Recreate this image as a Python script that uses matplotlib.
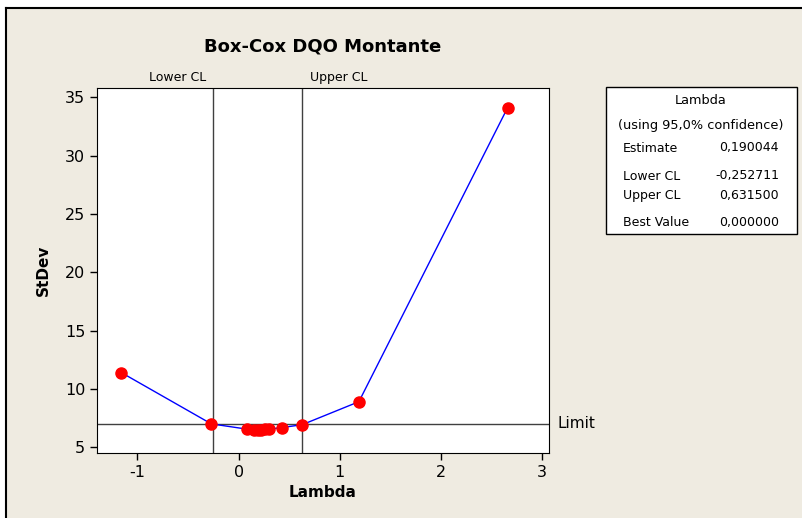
import matplotlib.pyplot as plt
import matplotlib.patches as mpatches
from matplotlib.lines import Line2D

plt.rcParams['axes.unicode_minus'] = False

# dados
lam = [-1.16, -0.27, 0.08, 0.15, 0.19, 0.22, 0.26, 0.30, 0.43, 0.63, 1.19, 2.66]
stdev = [11.4, 7.0, 6.55, 6.5, 6.49, 6.5, 6.52, 6.55, 6.68, 6.93, 8.9, 34.1]
lower_cl = -0.252711
upper_cl = 0.631500
limit = 7.02

box_labels = ['Estimate', 'Lower CL', 'Upper CL', 'Best Value']
box_values = ['0,190044', '-0,252711', '0,631500', '0,000000']

W, H = 803, 518
bg = '#EFEBE1'

fig = plt.figure(figsize=(W / 100, H / 100), dpi=100, facecolor=bg)
ax = fig.add_axes([97 / W, 1 - 453 / H, (549 - 97) / W, (453 - 88) / H])

ax.plot(lam, stdev, color='blue', lw=1, zorder=3)
ax.plot(lam, stdev, 'o', color='red', ms=8, zorder=4)
ax.axvline(lower_cl, color='#404040', lw=1, zorder=2)
ax.axvline(upper_cl, color='#404040', lw=1, zorder=2)
ax.axhline(limit, color='#404040', lw=1, zorder=2)

ax.set_xlim(-1.4, 3.07)
ax.set_ylim(4.5, 35.8)
ax.set_xticks([-1, 0, 1, 2, 3])
ax.set_yticks([5, 10, 15, 20, 25, 30, 35])
ax.tick_params(labelsize=11.5, length=5, direction='out', width=1)
ax.set_xlabel('Lambda', fontsize=11, fontweight='bold', labelpad=4)
ax.set_ylabel('StDev', fontsize=11, fontweight='bold', labelpad=10)

ax.text(lower_cl - 0.07, 1.01, 'Lower CL', transform=ax.get_xaxis_transform(),
        ha='right', va='bottom', fontsize=9)
ax.text(upper_cl + 0.07, 1.01, 'Upper CL', transform=ax.get_xaxis_transform(),
        ha='left', va='bottom', fontsize=9)
ax.text(3.15, limit, 'Limit', ha='left', va='center', fontsize=11, clip_on=False)

fig.text(323 / W, 1 - 47 / H, 'Box-Cox DQO Montante', ha='center', va='center',
         fontsize=13, fontweight='bold')

# caixa de resultados
fig.patches.append(mpatches.Rectangle((606 / W, 1 - 234 / H), (797 - 606) / W, (234 - 87) / H,
                                      transform=fig.transFigure, facecolor='white',
                                      edgecolor='black', lw=1))
fig.text(701 / W, 1 - 101 / H, 'Lambda', ha='center', va='center', fontsize=9.3)
fig.text(701 / W, 1 - 125 / H, '(using 95,0% confidence)', ha='center', va='center', fontsize=9.3)
rows_y = [148, 176, 195, 223]
for lab, val, yy in zip(box_labels, box_values, rows_y):
    fig.text(623 / W, 1 - yy / H, lab, ha='left', va='center', fontsize=9)
    fig.text(779 / W, 1 - yy / H, val, ha='right', va='center', fontsize=9)

# moldura
fig.add_artist(Line2D([6 / W, 1], [1 - 8 / H, 1 - 8 / H], transform=fig.transFigure, color='black', lw=1.5))
fig.add_artist(Line2D([6 / W, 6 / W], [0, 1 - 8 / H], transform=fig.transFigure, color='black', lw=1.5))
fig.patches.append(mpatches.Rectangle((0, 1 - 8 / H), 1, 8 / H, transform=fig.transFigure,
                                      facecolor='white', edgecolor='none'))
fig.patches.append(mpatches.Rectangle((0, 0), 6 / W, 1, transform=fig.transFigure,
                                      facecolor='white', edgecolor='none'))

fig.savefig('out.png', dpi=100, facecolor=bg)
